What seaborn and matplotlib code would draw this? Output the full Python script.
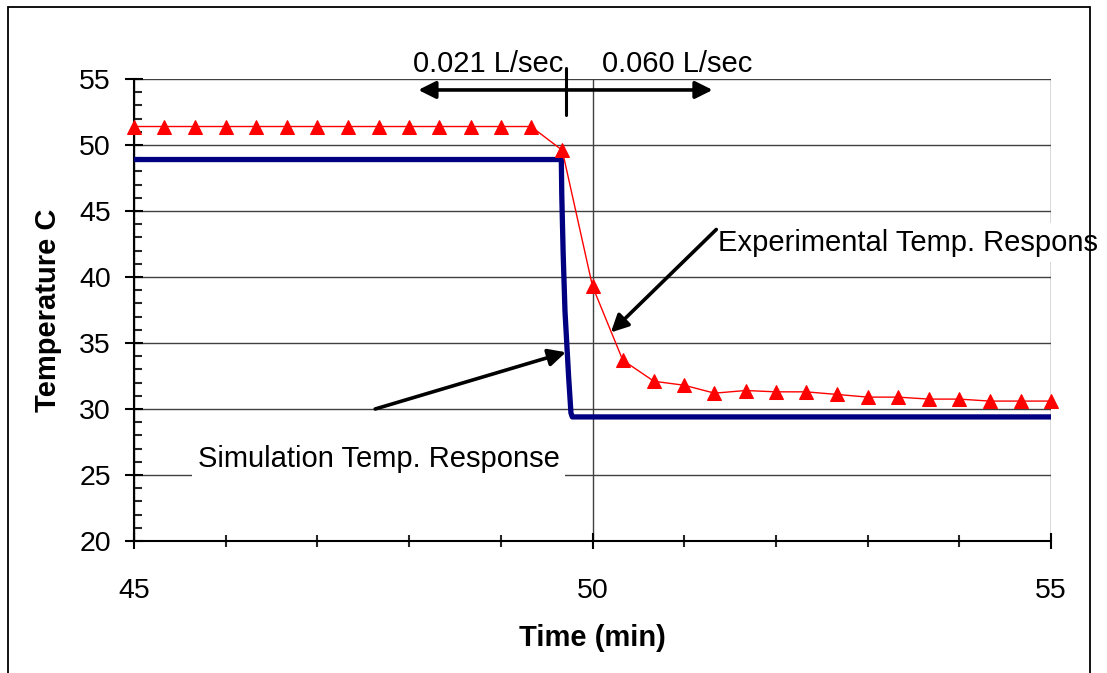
import matplotlib
matplotlib.use("Agg")
import matplotlib.pyplot as plt
from matplotlib.patches import Rectangle
from matplotlib.ticker import MultipleLocator
import seaborn as sns
import pandas as pd

# ---------------- data ----------------
exp_time = [45.0, 45.33, 45.67, 46.0, 46.33, 46.67, 47.0, 47.33, 47.67, 48.0,
            48.33, 48.67, 49.0, 49.33, 49.67, 50.0, 50.33, 50.67, 51.0, 51.33,
            51.67, 52.0, 52.33, 52.67, 53.0, 53.33, 53.67, 54.0, 54.33, 54.67, 55.0]
exp_temp = [51.4, 51.4, 51.4, 51.4, 51.4, 51.4, 51.4, 51.4, 51.4, 51.4,
            51.4, 51.4, 51.4, 51.4, 49.6, 39.3, 33.7, 32.1, 31.8, 31.2,
            31.4, 31.3, 31.3, 31.1, 30.9, 30.9, 30.75, 30.75, 30.6, 30.6, 30.6]

sim_time = [45.0, 49.66, 49.665, 49.68, 49.70, 49.74, 49.765, 49.78, 55.0]
sim_temp = [48.9, 48.9, 46.2, 41.8, 37.4, 32.4, 29.7, 29.4, 29.4]

x_ticks = [45, 50, 55]
y_ticks = [20, 25, 30, 35, 40, 45, 50, 55]

flow_left = "0.021 L/sec"
flow_right = "0.060 L/sec"
sim_label = "Simulation Temp. Response"
exp_label = "Experimental Temp. Respons"

# ---------------- style ----------------
sns.set_style("white")
plt.rcParams["font.family"] = ["Liberation Sans", "DejaVu Sans"]
plt.rcParams["text.color"] = "black"
plt.rcParams["axes.labelcolor"] = "black"
FS = 21
TFS = 20.5

fig = plt.figure(figsize=(11.07, 6.73), dpi=100)
ax = fig.add_axes([134 / 1107, 1 - 541 / 673, (1051 - 134) / 1107, (541 - 79) / 673])

sim_df = pd.DataFrame({"time": sim_time, "temp": sim_temp})
exp_df = pd.DataFrame({"time": exp_time, "temp": exp_temp})

sns.lineplot(data=sim_df, x="time", y="temp", ax=ax, color="#000080", lw=3.8,
             estimator=None, sort=False, zorder=3)
sns.lineplot(data=exp_df, x="time", y="temp", ax=ax, color="#ff0000", lw=1.0,
             marker="^", markersize=10.5, markeredgecolor="#ff0000",
             estimator=None, sort=False, zorder=4, clip_on=False)

ax.set_xlim(45, 55)
ax.set_ylim(20, 55)
ax.set_xticks(x_ticks)
ax.set_yticks(y_ticks)
ax.xaxis.set_minor_locator(MultipleLocator(1))
ax.yaxis.set_minor_locator(MultipleLocator(1))

ax.grid(True, which="major", color="#404040", lw=1.0)
ax.grid(False, which="minor")
ax.set_axisbelow(True)

for s in ["top", "right"]:
    ax.spines[s].set_visible(False)
for s in ["left", "bottom"]:
    ax.spines[s].set_color("black")
    ax.spines[s].set_linewidth(1.5)

ax.tick_params(axis="x", which="major", direction="inout", length=12, width=1.5,
               labelsize=TFS, pad=21, colors="black", bottom=True)
ax.tick_params(axis="x", which="minor", direction="inout", length=9, width=1.5, bottom=True)
ax.tick_params(axis="y", which="major", direction="inout", length=13, width=1.5,
               labelsize=TFS, pad=10, colors="black", left=True)
ax.tick_params(axis="y", which="minor", direction="in", length=6, width=1.5, left=True)

ax.set_xlabel("Time (min)", fontsize=FS, fontweight="bold")
ax.set_ylabel("Temperature C", fontsize=FS, fontweight="bold")
ax.xaxis.set_label_coords(0.5, -0.18)
ax.yaxis.set_label_coords(-0.078, 0.5)

# ---------------- annotations ----------------
arrow_kw = dict(arrowstyle="-|>", lw=2.6, color="black", mutation_scale=26,
                shrinkA=0, shrinkB=0)
ax.annotate("", xy=(49.71, 34.3), xytext=(47.63, 30.0), arrowprops=arrow_kw,
            annotation_clip=False, zorder=6)
ax.annotate("", xy=(50.20, 35.8), xytext=(51.35, 43.6), arrowprops=arrow_kw,
            annotation_clip=False, zorder=6)

# flow-rate double arrow above the plot
ax.annotate("", xy=(48.10, 54.17), xytext=(49.71, 54.17),
            arrowprops=arrow_kw, annotation_clip=False, zorder=6)
ax.annotate("", xy=(51.31, 54.17), xytext=(49.71, 54.17),
            arrowprops=arrow_kw, annotation_clip=False, zorder=6)
ax.plot([49.71, 49.71], [52.3, 55.8], color="black", lw=2.2, clip_on=False, zorder=6)

ax.text(49.68, 56.1, flow_left, fontsize=FS, ha="right", va="center", clip_on=False)
ax.text(50.10, 56.1, flow_right, fontsize=FS, ha="left", va="center", clip_on=False)

ax.text(47.67, 26.2, sim_label, fontsize=FS, ha="center", va="center", zorder=5,
        bbox=dict(facecolor="white", edgecolor="none", pad=4))
ax.text(51.37, 42.58, exp_label, fontsize=FS, ha="left", va="center", zorder=5,
        clip_on=False,
        bbox=dict(facecolor="white", edgecolor="none", pad=4))

# outer chart frame
fig.patches.append(Rectangle((8 / 1107, -0.05), (1090 - 8) / 1107, 1.05 - 7 / 673,
                             transform=fig.transFigure, fill=False,
                             edgecolor="black", lw=1.3, zorder=0))

fig.savefig("out.png", dpi=100)
